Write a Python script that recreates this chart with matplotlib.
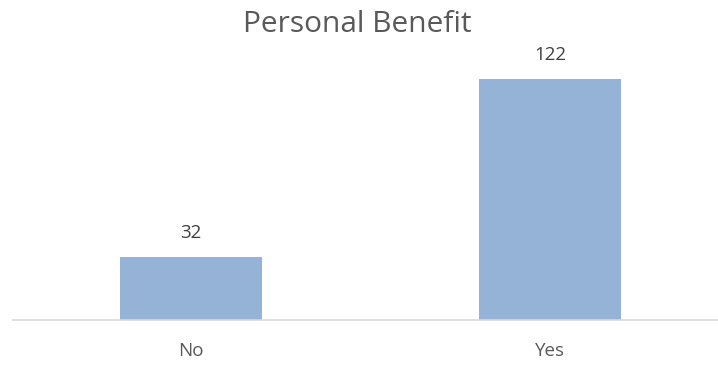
import matplotlib
matplotlib.use("Agg")
from matplotlib import pyplot as plt

categories = ["No", "Yes"]
counts = [32, 122]

plt.rcParams['font.family'] = ['Open Sans', 'DejaVu Sans']

W, H = 718, 365
fig = plt.figure(figsize=(W / 100, H / 100), dpi=100)
# axes placed in pixel terms: baseline at y=320, left edge of axis line at x=13
ax = fig.add_axes([13 / W, (H - 320) / H, (W - 13) / W, 270 / H])

x = range(len(categories))
bars = ax.bar(x, counts, width=0.398, color='#95B3D7', zorder=2)

ax.set_xlim(-0.496, 1.468)
ax.set_ylim(0, 136.7)

for b, v in zip(bars, counts):
    ax.annotate(str(v), (b.get_x() + b.get_width() / 2, v),
                xytext=(0, 11), textcoords='offset points',
                ha='center', va='bottom', fontsize=13.5, color='#404040')

ax.set_xticks(list(x))
ax.set_xticklabels(categories, fontsize=13.5, color='#595959')
ax.tick_params(axis='x', length=0, pad=16)
ax.set_yticks([])
for s in ['top', 'right', 'left']:
    ax.spines[s].set_visible(False)
ax.spines['bottom'].set_color('#D9D9D9')
ax.spines['bottom'].set_linewidth(1.2)

fig.text(357 / W, 1 - 24 / H, "Personal Benefit", ha='center', va='center',
         fontsize=21.5, color='#595959')

fig.savefig("out.png", dpi=100)
